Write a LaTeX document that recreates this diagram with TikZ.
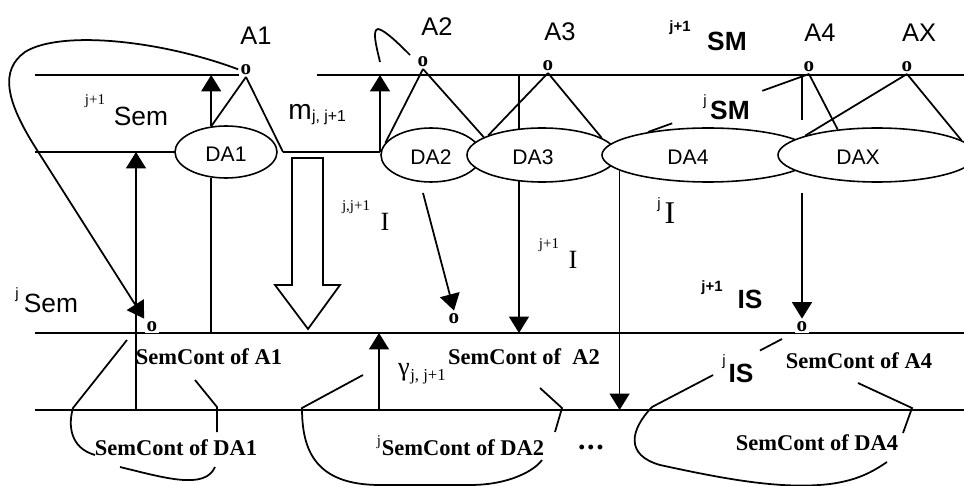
\documentclass[tikz,border=0pt]{standalone}
\usepackage{fontspec}
\setmainfont{Liberation Sans}
\newfontfamily\tnr{Liberation Serif}
\usetikzlibrary{arrows.meta,shapes.geometric,calc}

\begin{document}
\begin{tikzpicture}[x=0.02cm,y=-0.02cm,line width=1pt,
  tri/.style={-{Triangle[length=3.3mm,width=4mm]}},
  dabox/.style={ellipse,draw,fill=white,line width=0.9pt,inner sep=0pt,minimum height=54*0.02cm},
  datext/.style={font=\fontsize{12}{14}\selectfont,inner sep=0pt},
  onode/.style={font=\tnr\bfseries\fontsize{12}{12}\selectfont,inner sep=1pt,fill=white,anchor=south},
  albl/.style={font=\fontsize{14.5}{16}\selectfont,inner sep=0pt},
  semlbl/.style={font=\fontsize{15}{17}\selectfont,inner sep=0pt},
  boldlbl/.style={font=\bfseries\fontsize{15}{17}\selectfont,inner sep=0pt},
  supl/.style={font=\tnr\fontsize{8.5}{9}\selectfont,inner sep=0pt},
  supsf/.style={font=\fontsize{8.5}{9}\selectfont,inner sep=0pt},
  supbf/.style={font=\bfseries\fontsize{8.5}{9}\selectfont,inner sep=0pt},
  ilbl/.style={font=\tnr\fontsize{15}{17}\selectfont,inner sep=0pt},
  sctext/.style={font=\tnr\bfseries\fontsize{12.8}{14}\selectfont,inner sep=0pt}]
\useasboundingbox (0,0) rectangle (964,486);

% levels
\coordinate (topL) at (35,75);
\coordinate (topR) at (964,75);
\coordinate (midL) at (35,152);
\coordinate (m1) at (283,152);
\coordinate (m2) at (380,152);
\coordinate (semL) at (35,333);
\coordinate (semR) at (964,333);
\coordinate (dL) at (35,410);
\coordinate (dR) at (964,410);
\draw (topL) -- (246,75) (317,75) -- (topR);
\draw (midL) -- (176,152) (m1) -- (m2);
\draw (semL) -- (semR);
\draw (dL) -- (dR);

% design attributes
\node[dabox,minimum width=102*0.02cm,minimum height=52*0.02cm] (DA1) at (226,152) {};
\node[dabox,minimum width=100*0.02cm] (DA2) at (431,155) {};
\node[dabox,minimum width=150*0.02cm] (DA3) at (542,155) {};
\node[dabox,minimum width=212*0.02cm] (DA4) at (708,155) {};
\node[dabox,minimum width=198*0.02cm] (DAX) at (877,155) {};
\node[datext] at (226,154) {DA1};
\node[datext] at (431,157) {DA2};
\node[datext] at (533,157) {DA3};
\node[datext] at (688,157) {DA4};
\node[datext] at (858,157) {DAX};

% attribute points
\node[onode] (oA1) at (246,77) {o};
\node[onode] (oA2) at (423,69) {o};
\node[onode] (oA3) at (548,73) {o};
\node[onode] (oA4) at (809,74) {o};
\node[onode] (oAX) at (907,74) {o};
\node[onode] (oS1) at (152,334) {o};
\node[onode] (oS2) at (454,326) {o};
\node[onode] (oS4) at (802,334) {o};

% A1
\draw (oA1.south) -- (DA1.120);
\draw (oA1.south) -- (m1);
\draw[tri] (DA1.120) -- (DA1.120 |- topL);
\draw (DA1.240) -- (DA1.240 |- semL);
\coordinate (s1) at (136,410);
\draw[tri] (s1) -- (s1 |- midL);
\draw[tri] (oA1.west) .. controls (160,40) and (60,30) .. (25,52)
  .. controls (0,70) and (5,100) .. (37,150) -- (oS1.north west);

% A2
\draw (380,62) .. controls (376,45) and (372,30) .. (378,29)
  .. controls (385,30) and (400,45) .. (410,55);
\draw (oA2.south) -- (DA2.165);
\draw (oA2.south) -- (DA3.163);
\draw[tri] (m2) -- (m2 |- topL);
\coordinate (d2) at (423,193);
\draw[tri] (d2) -- (oS2.north);

% A3
\draw (oA3.south) -- (DA3.160);
\draw (oA3.south) -- (DA3.16);
\draw (DA3.131 |- topL) -- (DA3.131);
\draw[tri] (DA3.229) -- (DA3.229 |- semL);

% A4 and AX
\draw (oA4.south) -- ($(oA4.south)!0.29!(DA4.159)$);
\draw ($(oA4.south)!0.85!(DA4.159)$) -- (DA4.159);
\draw (oA4.south) -- (DAX.147);
\coordinate (v4) at (802,120);
\coordinate (v4b) at (802,193);
\draw (v4 |- topL) -- (v4);
\draw[tri] (v4b) -- (oS4.north);
\draw (oAX.south) -- (DAX.165);
\draw (oAX.south) -- (DAX.10);
\draw[tri] (DA4.190) -- (DA4.190 |- dL);

% transfer arrows
\coordinate (g1) at (379,410);
\draw[tri] (g1) -- (g1 |- semL);
\draw (292,158) -- (323,158) -- (323,285) -- (340,285) -- (308,329)
  -- (275,285) -- (292,285) -- cycle;

% SemCont of DA1
\draw (127,340) -- (73,408) .. controls (68,425) and (70,448) .. (95,455);
\draw (195,380) -- (217,407) -- (217,432);
\draw (120,467) .. controls (165,478) and (205,490) .. (215,467);
% SemCont of DA2
\draw (363,375) -- (302,408) .. controls (302,450) and (315,485) .. (380,485)
  -- (470,485) .. controls (510,485) and (535,470) .. (542,460);
\draw (540,388) -- (562,408) -- (555,432);
% SemCont of DA4
\coordinate (c1) at (782,339);
\coordinate (c2) at (652,407);
\draw (c1) -- ($(c1)!0.17!(c2)$);
\draw ($(c1)!0.53!(c2)$) -- (c2) .. controls (630,430) and (625,455) .. (660,465)
  .. controls (720,478) and (780,490) .. (830,484) .. controls (860,480) and (875,470) .. (887,462);
\draw (858,383) -- (912,408) -- (903,433);

% labels
\node[albl] (A1) at (256,36) {A1};
\node[albl] (A2) at (437,27) {A2};
\node[albl] (A3) at (560,32) {A3};
\node[albl] (A4) at (820,33) {A4};
\node[albl] (AX) at (919,33) {AX};
\node[supl] at (95,101) {j+1};
\node[semlbl] at (141,116) {Sem};
\node[supsf] at (17,295) {j};
\node[semlbl] at (51,303) {Sem};
\node[supbf] at (680,28) {j+1};
\node[boldlbl] at (727,41) {SM};
\node[supsf] at (705,102) {j};
\node[boldlbl] at (730,110) {SM};
\node[font=\fontsize{16}{18}\selectfont,inner sep=0pt] at (300,112) {m};
\node[supsf,font=\fontsize{9}{10}\selectfont] at (329,117) {j, j+1};
\node[supl] at (356,207) {j,j+1};
\node[ilbl] at (385,222) {I};
\node[supl] at (549,245) {j+1};
\node[ilbl] at (573,260) {I};
\node[supsf] at (659,205) {j};
\node[ilbl,font=\tnr\fontsize{18}{20}\selectfont] at (670,213) {I};
\node[supbf] at (712,288) {j+1};
\node[boldlbl] at (750,299) {IS};
\node[supsf] at (724,362) {j};
\node[boldlbl] at (741,373) {IS};
\node[ilbl] at (404,372) {γ};
\node[supl,font=\tnr\fontsize{9.5}{10}\selectfont] at (428,377) {j, j+1};
\node[sctext] at (209,357) {SemCont of A1};
\node[sctext] at (524,357) {SemCont of\ \ A2};
\node[sctext] at (859,361) {SemCont of A4};
\node[sctext] at (176,448) {SemCont of DA1};
\node[supl] at (379,442) {j};
\node[sctext] at (463,448) {SemCont of DA2};
\node[sctext,font=\tnr\bfseries\fontsize{17}{18}\selectfont] at (591,448) {.\kern1pt.\kern1pt.};
\node[sctext] at (817,443) {SemCont of DA4};
\end{tikzpicture}
\end{document}
